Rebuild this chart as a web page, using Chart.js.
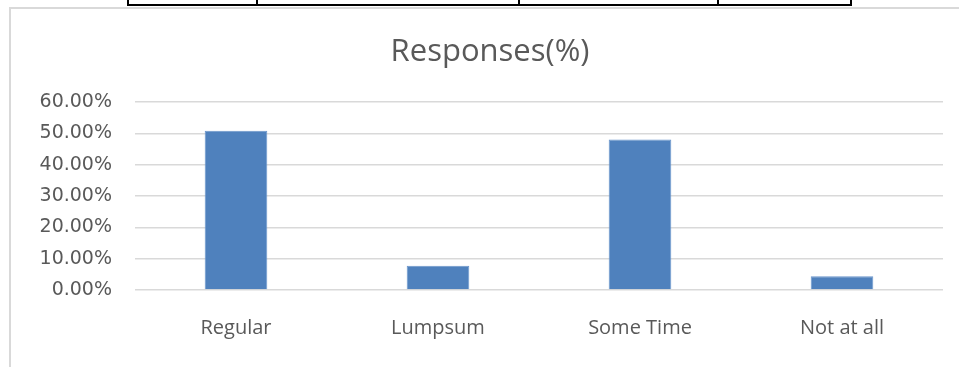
<!DOCTYPE html>
<html>
<head>
<meta charset="utf-8">
<title>Responses(%)</title>
<script src="https://cdn.jsdelivr.net/npm/chart.js@4.4.1/dist/chart.umd.min.js"></script>
<style>
  html, body { margin: 0; padding: 0; background: #fff; }
  #wrap { width: 959px; height: 367px; position: relative; }
</style>
</head>
<body>
<div id="wrap"><canvas id="myChart"></canvas></div>
<script>
const categories = ['Regular', 'Lumpsum', 'Some Time', 'Not at all'];
const responses = [50.8, 7.7, 48.0, 4.4];
const yTicks = [0, 10, 20, 30, 40, 50, 60];
const chartTitle = 'Responses(%)';

// frame of the chart box, the bottom of the table above it, and the title
const framePlugin = {
    id: 'frame',
    beforeDraw(chart) {
        const ctx = chart.ctx;
        ctx.save();
        ctx.strokeStyle = '#d9d9d9';
        ctx.lineWidth = 2;
        ctx.beginPath();
        ctx.moveTo(10, 367);
        ctx.lineTo(10, 8);
        ctx.lineTo(959, 8);
        ctx.stroke();

        ctx.strokeStyle = '#000';
        ctx.lineWidth = 2;
        ctx.beginPath();
        ctx.moveTo(128, 5);
        ctx.lineTo(852, 5);
        [128, 257, 519, 718, 851].forEach(x => {
            ctx.moveTo(x, 0);
            ctx.lineTo(x, 6);
        });
        ctx.stroke();

        // title is centred on the whole chart box, not the plot area
        ctx.fillStyle = '#595959';
        ctx.font = '31px "Open Sans"';
        ctx.textAlign = 'center';
        ctx.textBaseline = 'middle';
        ctx.fillText(chartTitle, 490, 52);
        ctx.restore();
    }
};

const getChart = document.getElementById('myChart').getContext('2d');
const mychart = new Chart(getChart, {
    type: 'bar',
    data: {
        labels: categories,
        datasets: [{
            label: chartTitle,
            data: responses,
            backgroundColor: '#4f81bd',
            borderColor: '#6a95cc',
            borderWidth: 1,
            barPercentage: 0.31,
            categoryPercentage: 1
        }]
    },
    options: {
        responsive: true,
        maintainAspectRatio: false,
        animation: false,
        layout: {
            padding: { left: 0, right: 16, top: 102, bottom: 0 }
        },
        scales: {
            x: {
                grid: { display: false, drawTicks: false },
                border: { display: false },
                ticks: {
                    padding: 26,
                    color: '#595959',
                    font: { family: 'Open Sans', size: 20 }
                },
                afterFit(scale) { scale.height = 77; }
            },
            y: {
                min: 0,
                max: 60,
                afterBuildTicks(scale) {
                    scale.ticks = yTicks.map(v => ({ value: v }));
                },
                grid: { color: '#d9d9d9', lineWidth: 1.5, drawTicks: false },
                border: { display: false },
                ticks: {
                    padding: 23,
                    color: '#595959',
                    font: { family: 'DejaVu Sans', size: 19 },
                    callback: v => v.toFixed(2) + '%'
                },
                afterFit(scale) { scale.width = 135; }
            }
        },
        plugins: {
            legend: { display: false },
            tooltip: { enabled: false },
            title: { display: false }
        }
    },
    plugins: [framePlugin]
});
</script>
</body>
</html>
